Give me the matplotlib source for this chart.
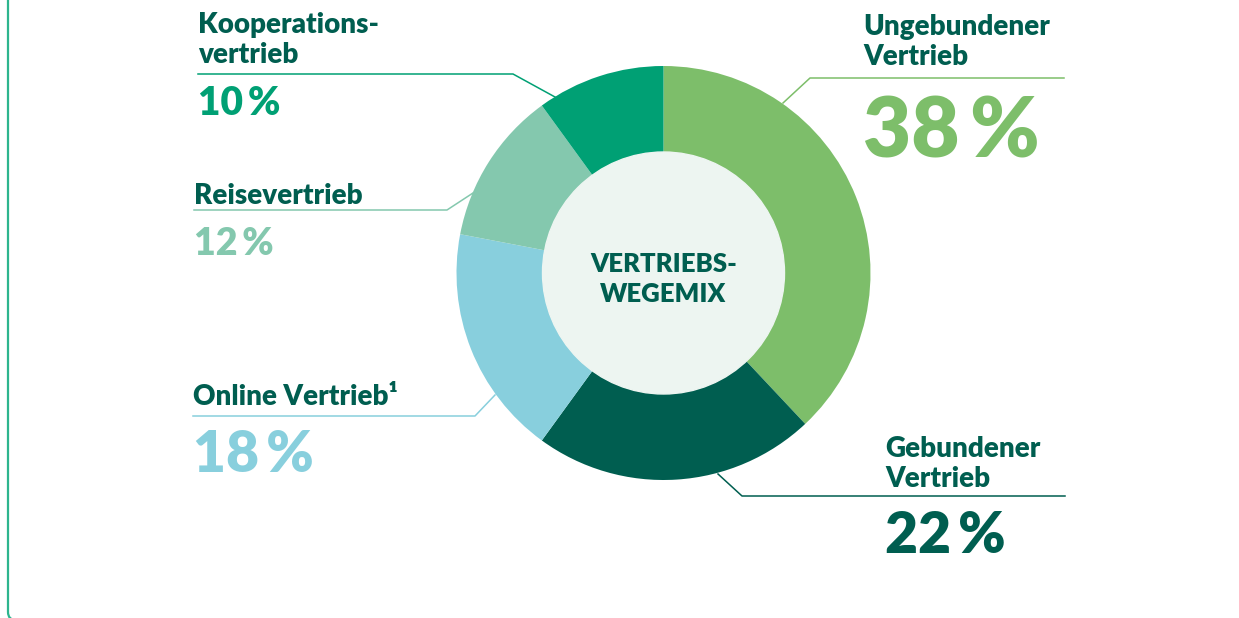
import matplotlib.pyplot as plt
from matplotlib.patches import Circle, FancyBboxPatch

W, H = 1239, 618

# data
labels = ["Ungebundener\nVertrieb", "Gebundener\nVertrieb", "Online Vertrieb¹",
          "Reisevertrieb", "Kooperations-\nvertrieb"]
shares = [38, 22, 18, 12, 10]
colors = ["#7DBE6A", "#005E50", "#88CFDD", "#84C8AE", "#00A074"]
center_title = "VERTRIEBS-\nWEGEMIX"

dark = "#005E50"
plt.rcParams['font.family'] = ['Lato', 'DejaVu Sans']

fig = plt.figure(figsize=(W / 100, H / 100), dpi=100)
ax = fig.add_axes([0, 0, 1, 1])


def Y(y):
    # pixel row from top -> data y
    return H - y


cx, cy = 663.5, Y(273)
r_out, r_in = 207, 121

ax.pie(shares, colors=colors, startangle=90, counterclock=False,
       center=(cx, cy), radius=r_out, frame=True,
       wedgeprops=dict(linewidth=0))
ax.set_xlim(0, W)
ax.set_ylim(0, H)
ax.set_aspect("equal")
ax.axis("off")
ax.add_patch(Circle((cx, cy), r_in, color="#EDF5F1", zorder=3))

ax.text(cx, Y(272), center_title.split("\n")[0], ha="center", va="baseline",
        fontsize=18.5, fontweight="heavy", color=dark, zorder=4)
ax.text(cx, Y(302), center_title.split("\n")[1], ha="center", va="baseline",
        fontsize=18.5, fontweight="heavy", color=dark, zorder=4)

# label layout: (x, label baselines, pct baseline, pct size, connector points)
layout = [
    (863, [35, 65], 157, 60, [(1064, 78), (810, 78), (783, 103)]),
    (885, [457, 487], 553, 41, [(1065, 496), (742, 496), (718, 474)]),
    (193, [405], 472, 41, [(193, 416), (475, 416), (495, 395)]),
    (194, [204], 255, 27, [(194, 210), (447, 210), (473, 193)]),
    (198, [33, 63], 115, 28, [(198, 74), (513, 74), (555, 97)]),
]

for lab, val, col, (x, bases, pbase, psize, pts) in zip(labels, shares, colors, layout):
    for line, b in zip(lab.split("\n"), bases):
        ax.text(x, Y(b), line, ha="left", va="baseline", fontsize=20,
                fontweight="heavy", color=dark)
    ax.text(x, Y(pbase), f"{val}\u2009%", ha="left", va="baseline",
            fontsize=psize, fontweight="heavy", color=col)
    ax.plot([p[0] for p in pts], [Y(p[1]) for p in pts], color=col, lw=1.1,
            solid_joinstyle="round")

# frame (bottom and right edges fall just outside the image)
frame = FancyBboxPatch((8, Y(620)), 1245, 670, boxstyle="round,pad=0,rounding_size=8",
                       fill=False, edgecolor="#2DB58E", lw=1.6, clip_on=True)
ax.add_patch(frame)

fig.savefig("out.png", dpi=100)
